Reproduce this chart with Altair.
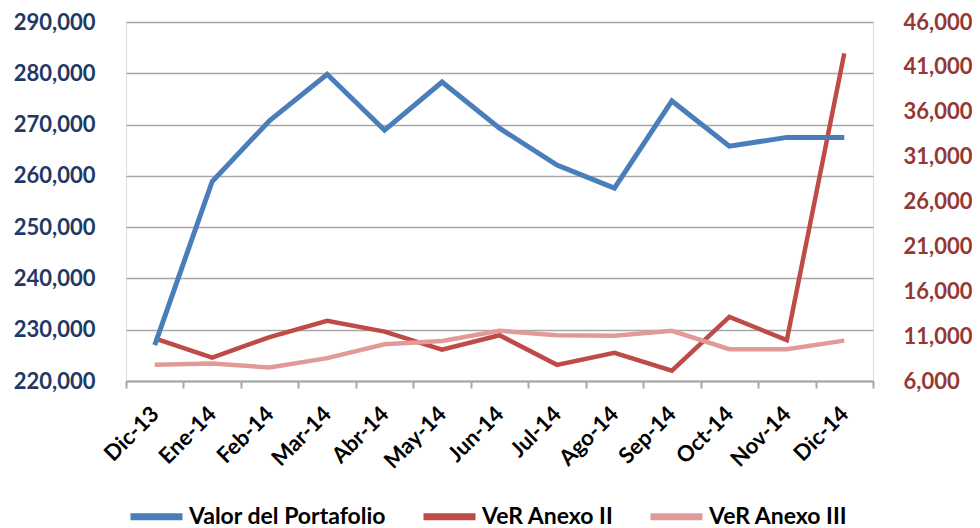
import altair as alt
import pandas as pd

months = ["Dic-13", "Ene-14", "Feb-14", "Mar-14", "Abr-14", "May-14", "Jun-14",
          "Jul-14", "Ago-14", "Sep-14", "Oct-14", "Nov-14", "Dic-14"]
valor_portafolio = [227000, 258900, 270800, 279800, 268900, 278300, 269300,
                    262100, 257600, 274600, 265800, 267500, 267500]
ver_anexo_ii = [10750, 8600, 10900, 12700, 11500, 9500, 11100,
                7800, 9150, 7150, 13150, 10550, 42500]
ver_anexo_iii = [7800, 7950, 7500, 8550, 10100, 10450, 11600,
                 11100, 11050, 11600, 9550, 9550, 10500]

series_names = ["Valor del Portafolio", "VeR Anexo II", "VeR Anexo III"]
series_colors = ["#4A7EBB", "#BE4B48", "#E09A98"]
left_ticks = list(range(220000, 290001, 10000))
right_ticks = list(range(6000, 46001, 5000))

rows = []
for i, m in enumerate(months):
    rows.append({"month": m, "series": series_names[0], "value": valor_portafolio[i], "order": i})
    rows.append({"month": m, "series": series_names[1], "value": ver_anexo_ii[i], "order": i})
    rows.append({"month": m, "series": series_names[2], "value": ver_anexo_iii[i], "order": i})
df = pd.DataFrame(rows)

FONT = "Lato"

x_enc = alt.X(
    "month:N", sort=months, bandPosition=0.5,
    scale=alt.Scale(type="band", paddingInner=0, paddingOuter=0),
    axis=alt.Axis(
        title=None, labelAngle=-45, labelAlign="right", labelBaseline="middle",
        labelFont=FONT, labelFontSize=22, labelFontWeight="bold", labelColor="#000000",
        labelPadding=22, tickBand="extent", tickSize=7, tickWidth=2, tickColor="#A6A6A6",
        domainColor="#A6A6A6", domainWidth=2, grid=False,
    ),
)

color_enc = alt.Color(
    "series:N",
    scale=alt.Scale(domain=series_names, range=series_colors),
    legend=alt.Legend(
        title=None, orient="none", legendX=1, legendY=465, direction="horizontal",
        columns=3, symbolType="stroke", symbolStrokeWidth=7, symbolSize=2704,
        labelFont=FONT, labelFontSize=23, labelFontWeight="bold", labelColor="#000000",
        labelOffset=3, columnPadding=22, labelLimit=0,
    ),
)

left = alt.Chart(df).transform_filter(
    alt.datum.series == series_names[0]
).mark_line(strokeWidth=5).encode(
    x=x_enc,
    y=alt.Y(
        "value:Q",
        scale=alt.Scale(domain=[220000, 290000], nice=False, zero=False),
        axis=alt.Axis(
            title=None, values=left_ticks, format=",d", orient="left",
            labelFont=FONT, labelFontSize=22, labelFontWeight="bold", labelColor="#1F3864",
            labelPadding=31, domain=False, ticks=False,
            grid=True, gridColor="#A6A6A6", gridWidth=1.5,
        ),
    ),
    color=color_enc,
    order="order:Q",
)

right = alt.Chart(df).transform_filter(
    alt.datum.series != series_names[0]
).mark_line(strokeWidth=4.5).encode(
    x=x_enc,
    y=alt.Y(
        "value:Q",
        scale=alt.Scale(domain=[6000, 46000], nice=False, zero=False),
        axis=alt.Axis(
            title=None, values=right_ticks, format=",d", orient="right",
            labelFont=FONT, labelFontSize=22, labelFontWeight="bold", labelColor="#953735",
            labelPadding=30, domain=False, ticks=False, grid=False,
        ),
    ),
    color=color_enc,
    detail="series:N",
    order="order:Q",
)

chart = alt.layer(right, left).resolve_scale(y="independent").properties(
    width=747, height=359,
    padding={"left": 5, "top": 3, "right": 0, "bottom": 0},
).configure_view(strokeWidth=0).configure(background="#FFFFFF")

chart.save("out.html", embed_options={"renderer": "svg", "actions": False})
